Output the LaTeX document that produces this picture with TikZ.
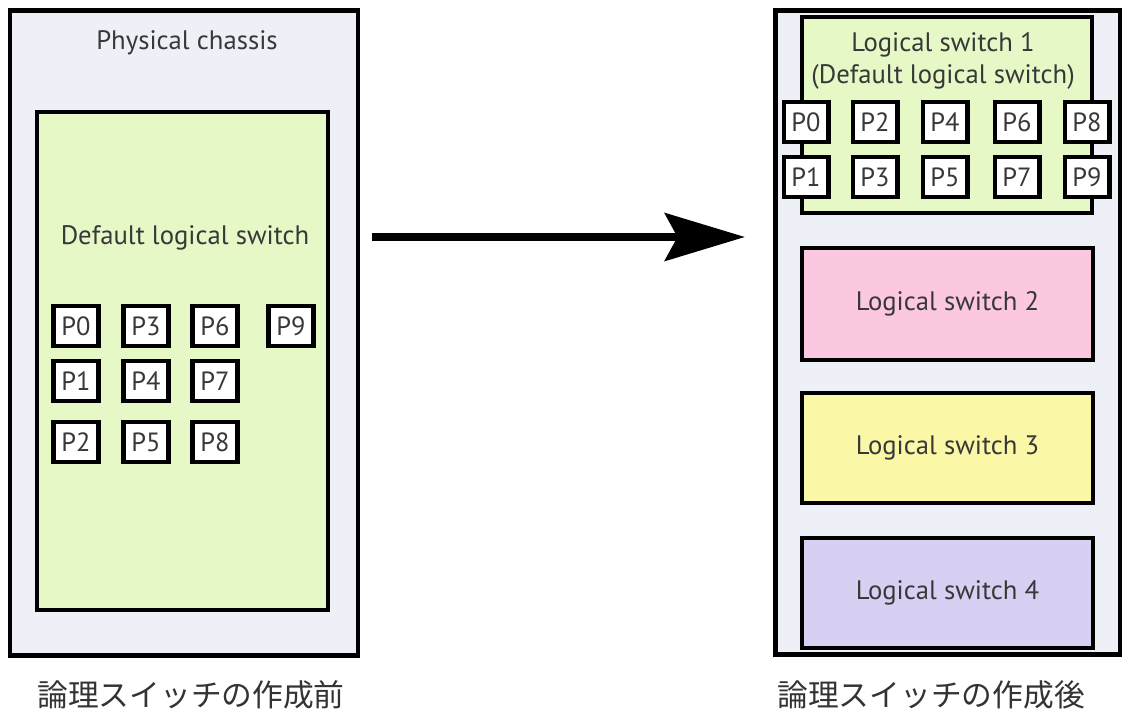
\documentclass[tikz,border=0pt]{standalone}
\usepackage{fontspec}
\setmainfont{PT Sans}
\newfontfamily\cjk{Noto Sans CJK JP}
\usetikzlibrary{arrows.meta}

\definecolor{chassisfill}{HTML}{EEF0F8}
\definecolor{swgreen}{HTML}{E5F8C5}
\definecolor{swpink}{HTML}{FCC8DF}
\definecolor{swyellow}{HTML}{FAF7A6}
\definecolor{swlilac}{HTML}{D8D0F2}
\definecolor{labelgray}{HTML}{383838}

\tikzset{
  chassis/.style={draw,line width=2.8pt,fill=chassisfill,minimum width=6.9cm,minimum height=12.9cm,inner sep=0pt},
  switchbox/.style={draw,line width=2.3pt,minimum width=5.82cm,inner sep=0pt},
  port/.style={draw,line width=2.3pt,fill=white,minimum width=0.9cm,minimum height=0.8cm,inner sep=0pt,
    text=labelgray,font=\fontsize{15}{17}\selectfont},
  swlabel/.style={text=labelgray,font=\fontsize{15.2}{18.5}\selectfont,align=center},
  caption/.style={text=black!80,font=\cjk\fontsize{17.5}{19}\selectfont},
  bigarrow/.style={line width=5pt,-{Stealth[length=1.6cm,width=0.95cm,inset=0.25cm]}}
}

\begin{document}
\begin{tikzpicture}[x=0.02cm,y=-0.02cm]

\useasboundingbox (0,0) rectangle (1124,713);

% before: one chassis, one default switch
\node[chassis,minimum width=6.96cm,minimum height=12.92cm] (lchassis) at (184,333) {};
\node[swlabel] (lchassislabel) at (187,43) {Physical chassis};
\node[switchbox,fill=swgreen,minimum height=9.96cm] (ldefault) at (182.5,361) {};
\node[swlabel] (ldefaultlabel) at (185,238) {Default logical switch};

\foreach \c/\x in {0/76,1/146,2/215}
  \foreach \r/\y in {0/326,1/381,2/442}
    \pgfmathtruncatemacro{\n}{3*\c+\r}
    \node[port] (lp\n) at (\x,\y) {P\n};
\node[port] (lp9) at (291,326) {P9};

% arrow
\coordinate (arrowstart) at (372,237);
\coordinate (arrowend) at (745,237);
\draw[bigarrow] (arrowstart) -- (arrowend);

% after: four logical switches
\node[chassis,minimum width=6.9cm,minimum height=12.9cm] (rchassis) at (947.5,332.5) {};

\node[switchbox,fill=swgreen,minimum width=5.8cm,minimum height=3.92cm] (lsw1) at (947,115) {};
\node[swlabel] (lsw1label) at (943,61) {Logical switch 1\\(Default logical switch)};

\foreach \c/\x in {0/806,1/875,2/945,3/1017,4/1087}
  \foreach \r/\y in {0/122,1/177}
    \pgfmathtruncatemacro{\n}{2*\c+\r}
    \node[port] (rp\n) at (\x,\y) {P\n};

\node[switchbox,fill=swpink,minimum height=2.24cm] (lsw2) at (947.5,304) {};
\node[swlabel] at (lsw2) {Logical switch 2};
\node[switchbox,fill=swyellow,minimum height=2.2cm] (lsw3) at (947.5,448) {};
\node[swlabel] at (lsw3) {Logical switch 3};
\node[switchbox,fill=swlilac,minimum height=2.2cm] (lsw4) at (947.5,593) {};
\node[swlabel] at (lsw4) {Logical switch 4};

% captions
\node[caption] (lcaption) at (191,695) {論理スイッチの作成前};
\node[caption] (rcaption) at (931,695) {論理スイッチの作成後};

\end{tikzpicture}
\end{document}
